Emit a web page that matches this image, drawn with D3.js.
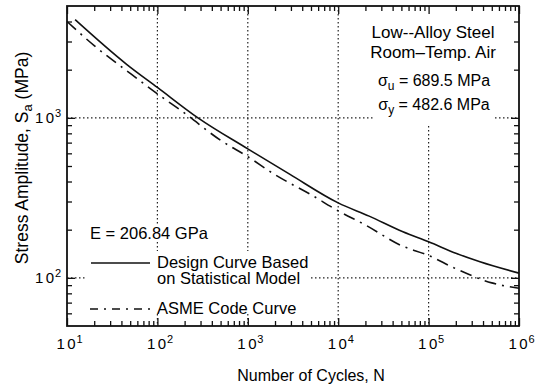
<!DOCTYPE html>
<html lang="en">

  <head>
    <meta charset="utf-8">
    <title>S-N Curve</title>
    <script src="https://d3js.org/d3.v7.js"></script>
    <style>
      body { margin: 0; background: #fff; }
      text { font-family: "Liberation Sans", Arial, Helvetica, sans-serif; fill: #000; }
    </style>
  </head>

  <body>
    <script>

  // width and height
  var w = 538;
  var h = 386;
  var margin = {top: 6, right: 19, bottom: 60, left: 67};
  var innerWidth = w - margin.left - margin.right;
  var innerHeight = h - margin.top - margin.bottom;

  // data
  var designN = [12.3, 46, 100, 281, 1000, 2930, 10000, 22000, 52000, 100000, 204000, 370000, 1000000];
  var designS = [4110, 2154, 1550, 1000, 640, 443, 294, 243, 194, 168, 142, 126, 107];

  var asmeN = [10, 20, 50, 100, 200, 500, 1000, 2000, 5000, 10000, 20000, 50000, 100000, 200000, 500000, 1000000];
  var asmeS = [3999, 2827, 1896, 1413, 1069, 724, 572, 441, 331, 262, 214, 159, 138, 114, 93, 86];

  var xTickExp = [1, 2, 3, 4, 5, 6];
  var yTickExp = [2, 3];
  var xGrid = [1e2, 1e3, 1e4, 1e5];
  var yGrid = [1e2, 1e3];

  var legendLabels = [["Design Curve Based", "on Statistical Model"], ["ASME Code Curve"]];
  var infoLines = ["Low--Alloy Steel", "Room\u2013Temp. Air"];

  // scales
  var xScale = d3.scaleLog()
    .domain([10, 1e6])
    .range([0, innerWidth]);

  var yScale = d3.scaleLog()
    .domain([50, 5000])
    .range([innerHeight, 0]);

  // minor tick values
  var xMinor = [];
  for (var e = 1; e < 6; e++) {
    for (var k = 2; k <= 9; k++) xMinor.push(k * Math.pow(10, e));
  }
  var yMinor = [60, 70, 80, 90, 200, 300, 400, 500, 600, 700, 800, 900, 2000, 3000, 4000];

  var svg = d3.select("body")
    .append("svg")
    .attr("width", w)
    .attr("height", h);

  var g = svg.append("g")
    .attr("transform", `translate(${margin.left}, ${margin.top})`);

  // dotted grid
  g.selectAll(".vgrid")
    .data(xGrid)
    .enter()
    .append("line")
    .attr("x1", d => xScale(d))
    .attr("x2", d => xScale(d))
    .attr("y1", 0)
    .attr("y2", innerHeight)
    .attr("stroke", "#222")
    .attr("stroke-width", 1.2)
    .attr("stroke-dasharray", "1.5,2.5");

  g.selectAll(".hgrid")
    .data(yGrid)
    .enter()
    .append("line")
    .attr("x1", 0)
    .attr("x2", innerWidth)
    .attr("y1", d => yScale(d))
    .attr("y2", d => yScale(d))
    .attr("stroke", "#222")
    .attr("stroke-width", 1.2)
    .attr("stroke-dasharray", "1.5,2.5");

  // curves
  var line = d3.line()
    .x(d => xScale(d[0]))
    .y(d => yScale(d[1]))
    .curve(d3.curveMonotoneX);

  g.append("path")
    .datum(d3.zip(asmeN, asmeS))
    .attr("d", line)
    .attr("fill", "none")
    .attr("stroke", "#111")
    .attr("stroke-width", 1.6)
    .attr("stroke-dasharray", "12,6,2,6");

  g.append("path")
    .datum(d3.zip(designN, designS))
    .attr("d", line)
    .attr("fill", "none")
    .attr("stroke", "#111")
    .attr("stroke-width", 1.6);

  // white boxes behind the notes (they hide the grid)
  g.append("rect")
    .attr("x", 306).attr("y", 1)
    .attr("width", 122).attr("height", 119)
    .attr("fill", "#fff");

  g.append("rect")
    .attr("x", 19).attr("y", 245)
    .attr("width", 224).attr("height", 61)
    .attr("fill", "#fff");

  g.append("rect")
    .attr("x", 21).attr("y", 219)
    .attr("width", 122).attr("height", 16)
    .attr("fill", "#fff");

  // axes: major and minor ticks point inward on all four sides
  var majorX = xTickExp.map(p => Math.pow(10, p));
  var majorY = yTickExp.map(p => Math.pow(10, p));

  var sides = [
    {axis: () => d3.axisBottom(xScale), t: `translate(0, ${innerHeight})`, major: majorX, minor: xMinor},
    {axis: () => d3.axisTop(xScale), t: "translate(0, 0)", major: majorX, minor: xMinor},
    {axis: () => d3.axisLeft(yScale), t: "translate(0, 0)", major: majorY, minor: yMinor},
    {axis: () => d3.axisRight(yScale), t: `translate(${innerWidth}, 0)`, major: majorY, minor: yMinor}
  ];

  sides.forEach(function(s) {
    g.append("g").attr("transform", s.t)
      .call(s.axis().tickValues(s.major).tickSize(-8).tickFormat(""));
    g.append("g").attr("transform", s.t)
      .call(s.axis().tickValues(s.minor).tickSize(-5).tickFormat(""));
  });

  g.selectAll(".domain").remove();
  g.selectAll(".tick text").remove();
  g.selectAll(".tick line").attr("stroke", "#111").attr("stroke-width", 1.3);

  // frame
  g.append("rect")
    .attr("width", innerWidth)
    .attr("height", innerHeight)
    .attr("fill", "none")
    .attr("stroke", "#111")
    .attr("stroke-width", 1.8);

  // tick labels "1 0^n": base and exponent as separate texts
  function powerLabel(sel, x0, y0) {
    sel.append("text")
      .attr("x", x0)
      .attr("y", y0)
      .attr("letter-spacing", "2.5px")
      .style("font-size", "15px")
      .text("10");
    sel.append("text")
      .attr("x", d => +x0(d) + 20)
      .attr("y", d => +y0(d) - 6)
      .style("font-size", "11px")
      .text(d => d);
  }

  var xLab = g.selectAll(".xlab")
    .data(xTickExp)
    .enter()
    .append("g");
  powerLabel(xLab, d => xScale(Math.pow(10, d)) - 10.5, d => innerHeight + 23);

  var yLab = g.selectAll(".ylab")
    .data(yTickExp)
    .enter()
    .append("g");
  powerLabel(yLab, d => -32, d => yScale(Math.pow(10, d)) + 5);

  // axis titles
  svg.append("text")
    .attr("x", 311)
    .attr("y", 381)
    .attr("text-anchor", "middle")
    .style("font-size", "16px")
    .text("Number of Cycles, N");

  var yt = svg.append("text")
    .attr("transform", "translate(28, 158) rotate(-90)")
    .attr("text-anchor", "middle")
    .style("font-size", "17.5px");
  yt.append("tspan").text("Stress Amplitude, S");
  yt.append("tspan").attr("dy", 4).style("font-size", "13px").text("a");
  yt.append("tspan").attr("dy", -4).text(" (MPa)");

  // material notes
  svg.selectAll(".info")
    .data(infoLines)
    .enter()
    .append("text")
    .attr("x", 433)
    .attr("y", (d, i) => 38 + i * 20)
    .attr("text-anchor", "middle")
    .style("font-size", "17px")
    .text(d => d);

  var sigmas = [["u", " = 689.5 MPa", 86], ["y", " = 482.6 MPa", 110]];
  sigmas.forEach(function(s) {
    var t = svg.append("text")
      .attr("x", 434)
      .attr("y", s[2])
      .attr("text-anchor", "middle")
      .style("font-size", "16px");
    t.append("tspan").text("\u03c3");
    t.append("tspan").attr("dy", 4).style("font-size", "12px").text(s[0]);
    t.append("tspan").attr("dy", -4).text(s[1]);
  });

  svg.append("text")
    .attr("x", 90)
    .attr("y", 239)
    .style("font-size", "16.5px")
    .text("E = 206.84 GPa");

  // legend
  svg.append("line")
    .attr("x1", 91).attr("x2", 150)
    .attr("y1", 263).attr("y2", 263)
    .attr("stroke", "#111").attr("stroke-width", 1.6);

  svg.append("line")
    .attr("x1", 90).attr("x2", 150)
    .attr("y1", 309).attr("y2", 309)
    .attr("stroke", "#111").attr("stroke-width", 1.6)
    .attr("stroke-dasharray", "8,6,2,6");

  svg.append("text")
    .attr("x", 157).attr("y", 268)
    .style("font-size", "16.5px")
    .selectAll("tspan")
    .data(legendLabels[0])
    .enter()
    .append("tspan")
    .attr("x", 157)
    .attr("dy", (d, i) => i === 0 ? 0 : 16)
    .text(d => d);

  svg.append("text")
    .attr("x", 157).attr("y", 314)
    .style("font-size", "16.5px")
    .text(legendLabels[1][0]);

    </script>
  </body>
</html>
